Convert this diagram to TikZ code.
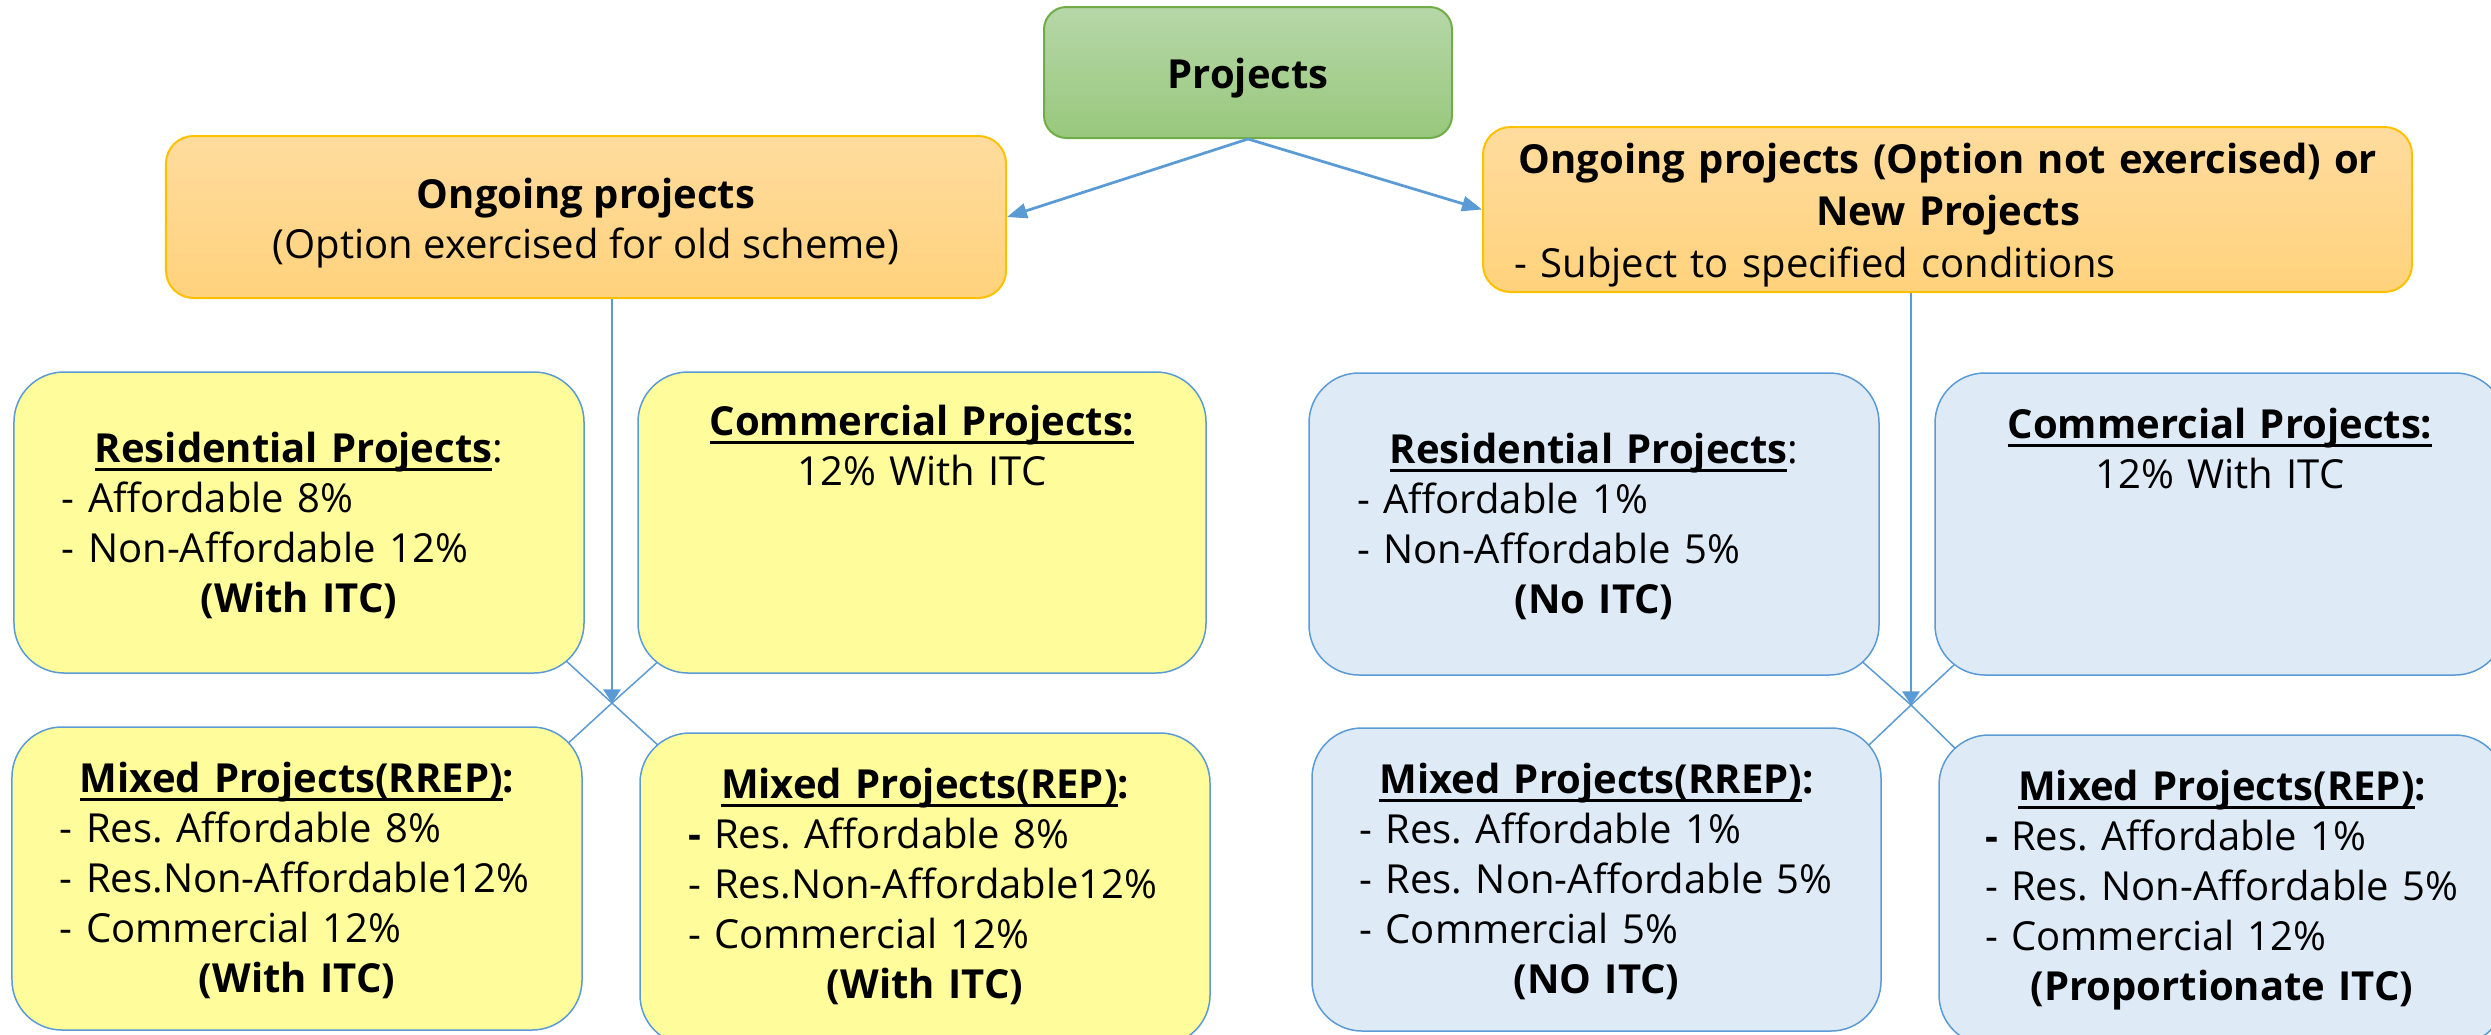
\documentclass[tikz,border=0pt]{standalone}
\usepackage{fontspec}
\setmainfont{Open Sans}
\usetikzlibrary{arrows.meta,backgrounds,shadings,calc}
\definecolor{lineblue}{HTML}{5B9BD5}
\definecolor{yel}{HTML}{FFFD9B}
\definecolor{lblue}{HTML}{DEEBF7}
\definecolor{orgtop}{HTML}{FFDC9E}
\definecolor{orgbot}{HTML}{FFD27C}
\definecolor{orgline}{HTML}{FFC000}
\definecolor{grtop}{HTML}{B6D7A8}
\definecolor{grbot}{HTML}{98C87C}
\definecolor{grline}{HTML}{70AD47}
\newsavebox\ulbox
\newcommand\fst{\rule{0pt}{15pt}}
\newcommand\ulx[1]{\sbox\ulbox{#1}\rlap{\rule[-3.2pt]{\wd\ulbox}{1.1pt}}\usebox\ulbox}
\newcommand\lft[1]{\makebox[\hsize][l]{#1}}
\frenchspacing
\begin{document}
\begin{tikzpicture}[x=0.4pt,y=-0.4pt,
  basebox/.style={rounded corners=20pt, inner sep=0pt, line width=0.6pt, draw=lineblue},
  ybox/.style={basebox, fill=yel},
  bbox/.style={basebox, fill=lblue},
  obox/.style={rounded corners=11pt, inner sep=0pt, line width=0.8pt, draw=orgline, top color=orgtop, bottom color=orgbot},
  gbox/.style={rounded corners=9pt, inner sep=0pt, line width=0.8pt, draw=grline, top color=grtop, bottom color=grbot},
  txt/.style={inner sep=0pt, align=center, font=\fontsize{16}{20}\selectfont},
  itxt/.style={txt, text width=189.6pt},
  arrtop/.style={draw=lineblue, line width=1.1pt, -{Triangle[length=8pt,width=6pt]}},
  arrv/.style={draw=lineblue, line width=0.8pt, -{Triangle[length=5.5pt,width=7pt]}},
  xline/.style={draw=lineblue, line width=0.6pt}]
\useasboundingbox (0,0) rectangle (2491,1034);
% boxes
\node[gbox, minimum width=163.2pt, minimum height=52.4pt] (proj) at (1248,72.5) {};
\node[obox, minimum width=336pt, minimum height=64.8pt] (ong1) at (586,217) {};
\node[obox, minimum width=371.6pt, minimum height=66pt] (ong2) at (1947.5,209.5) {};
\node[ybox, minimum width=228pt, minimum height=120.4pt] (resY) at (299,522.5) {};
\node[ybox, minimum width=227.2pt, minimum height=120.4pt] (comY) at (922,522.5) {};
\node[ybox, minimum width=228pt, minimum height=121.2pt] (rrepY) at (297,878.5) {};
\node[ybox, minimum width=228pt, minimum height=124.8pt] (repY) at (925,889) {};
\node[bbox, minimum width=228pt, minimum height=120.8pt] (resB) at (1594,524) {};
\node[bbox, minimum width=228pt, minimum height=120.8pt] (comB) at (2220,524) {};
\node[bbox, minimum width=227.6pt, minimum height=121.2pt] (rrepB) at (1596.5,879.5) {};
\node[bbox, minimum width=226.4pt, minimum height=124pt] (repB) at (2222,890) {};
% crossing points
\coordinate (C1) at (612,703);
\coordinate (C2) at (1911,705);
% connectors
\begin{scope}[on background layer]
\draw[xline] (C1) -- ($(resY.south east)+(-33,-26)$);
\draw[xline] (C1) -- ($(comY.south west)+(35,-25)$);
\draw[xline] (C1) -- ($(rrepY.north east)+(-31,32)$);
\draw[xline] (C1) -- ($(repY.north west)+(33,26)$);
\draw[xline] (C2) -- ($(resB.south east)+(-31,-26)$);
\draw[xline] (C2) -- ($(comB.south west)+(36,-26)$);
\draw[xline] (C2) -- ($(rrepB.north east)+(-32,36)$);
\draw[xline] (C2) -- ($(repB.north west)+(32,29)$);
\end{scope}
\draw[arrtop] (proj.south) -- (ong1.east);
\draw[arrtop] (proj.south) -- (ong2.west);
\draw[arrv] (ong1.south -| C1) -- (C1);
\draw[arrv] (ong2.south -| C2) -- (C2);
% texts
\node[txt, anchor=base, font=\fontsize{16}{20}\selectfont\bfseries] (tproj) at (1248,88) {Projects};
\node[txt, anchor=north] (tong1) at (586,170.5) {\fst\textbf{Ongoing projects}\\(Option exercised for old scheme)};
\node[txt, anchor=north, text width=346.8pt, font=\fontsize{16}{20.8}\selectfont] (tong2) at (1948,135.5) {\fst\textbf{Ongoing projects (Option not exercised) or}\\\textbf{New Projects}\\\lft{- Subject to specified conditions}};
\node[itxt, anchor=north] (tresY) at (299,424.5) {\fst\ulx{\textbf{Residential Projects}}:\\\lft{- Affordable 8\%}\\\lft{- Non-Affordable 12\%}\\\textbf{(With ITC)}};
\node[itxt, anchor=north] (tcomY) at (922,397.5) {\fst\ulx{\textbf{Commercial Projects:}}\\12\% With ITC};
\node[itxt, anchor=north] (trrepY) at (297,754.5) {\fst\ulx{\textbf{Mixed Projects(RREP)}}\textbf{:}\\\lft{- Res. Affordable 8\%}\\\lft{- Res.Non-Affordable12\%}\\\lft{- Commercial 12\%}\\\textbf{(With ITC)}};
\node[itxt, anchor=north] (trepY) at (925,760.5) {\fst\ulx{\textbf{Mixed Projects(REP)}}\textbf{:}\\\lft{\textbf{-} Res. Affordable 8\%}\\\lft{- Res.Non-Affordable12\%}\\\lft{- Commercial 12\%}\\\textbf{(With ITC)}};
\node[itxt, anchor=north] (tresB) at (1594,425.5) {\fst\ulx{\textbf{Residential Projects}}:\\\lft{- Affordable 1\%}\\\lft{- Non-Affordable 5\%}\\\textbf{(No ITC)}};
\node[itxt, anchor=north] (tcomB) at (2220,400.5) {\fst\ulx{\textbf{Commercial Projects:}}\\12\% With ITC};
\node[itxt, anchor=north] (trrepB) at (1596.5,755.5) {\fst\ulx{\textbf{Mixed Projects(RREP)}}\textbf{:}\\\lft{- Res. Affordable 1\%}\\\lft{- Res. Non-Affordable 5\%}\\\lft{- Commercial 5\%}\\\textbf{(NO ITC)}};
\node[itxt, anchor=north] (trepB) at (2222,762.5) {\fst\ulx{\textbf{Mixed Projects(REP)}}\textbf{:}\\\lft{\textbf{-} Res. Affordable 1\%}\\\lft{- Res. Non-Affordable 5\%}\\\lft{- Commercial 12\%}\\\textbf{(Proportionate ITC)}};
\end{tikzpicture}
\end{document}
